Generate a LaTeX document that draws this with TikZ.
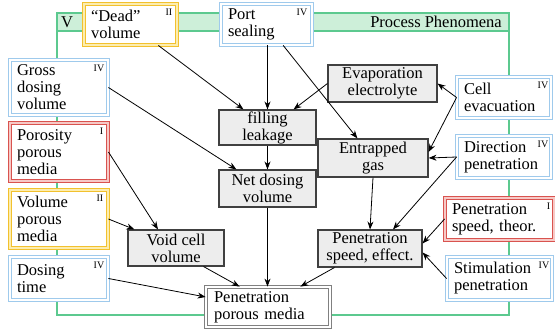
\documentclass[tikz,border=0pt]{standalone}
\usepackage{fontspec}
\setmainfont{Liberation Serif}
\usetikzlibrary{arrows.meta}
\definecolor{frameg}{HTML}{5CC98F}
\definecolor{bandg}{HTML}{CDEFD9}
\definecolor{factblue}{HTML}{9FCAEC}
\definecolor{factred}{HTML}{D9534F}
\definecolor{factredin}{HTML}{F6C9C6}
\definecolor{factyel}{HTML}{F2C12E}
\definecolor{factyelin}{HTML}{FCEDB0}
\newcommand{\boxfont}{\rmfamily\fontsize{16.5}{17}\selectfont}
\tikzset{
  factor/.style={double distance=1.3pt, line width=0.9pt, fill=white, align=left, inner xsep=7pt, inner ysep=1pt, font=\boxfont},
  tI/.style={factor, draw=factred, double=factredin},
  tII/.style={factor, draw=factyel, double=factyelin},
  tIV/.style={factor, draw=factblue, double=white},
  effect/.style={draw=black!75, fill=black!7, line width=1.1pt, align=center, inner sep=1pt, font=\boxfont},
  result/.style={draw=black!50, double=white, double distance=1.5pt, line width=0.8pt, fill=white, align=left, inner xsep=8pt, inner ysep=1pt, font=\boxfont},
  level/.style={anchor=north east, inner sep=0pt, font=\rmfamily\fontsize{10}{10}\selectfont},
  infl/.style={-{Stealth[length=8pt,width=6pt]}, line width=0.8pt},
}
\begin{document}
\begin{tikzpicture}[x=1pt,y=-1pt]
\useasboundingbox (0,0) rectangle (555,329);
% frame
\fill[bandg] (57,13) rectangle (509,31);
\draw[frameg, line width=1.8pt] (57,31) -- (509,31);
\draw[frameg, line width=1.8pt] (57,13) rectangle (509,315);
\node[font=\boxfont, anchor=west, inner sep=0pt] (vlab) at (61,22) {V};
\node[font=\boxfont, anchor=east, inner sep=0pt] (phen) at (502,22) {Process Phenomena};
% factors
\node[tII, text width=79pt, minimum height=41pt] (dead) at (130.5,24.5) {“Dead”\\volume};
\node[tIV, text width=77pt, minimum height=41pt] (port) at (266.5,24.5) {Port\\sealing};
\node[tIV, text width=84pt, minimum height=55pt] (gross) at (59,87.5) {Gross\\dosing\\volume};
\node[tI, text width=84pt, minimum height=58pt] (poro) at (59,152) {Porosity\\porous\\media};
\node[tII, text width=84pt, minimum height=58pt] (volpm) at (59,219) {Volume\\porous\\media};
\node[tIV, text width=84pt, minimum height=43pt] (dtime) at (59,278.5) {Dosing\\time};
\node[tIV, text width=80pt, minimum height=41pt] (cell) at (504,97.5) {Cell\\evacuation};
\node[tIV, text width=80pt, minimum height=42pt] (dirp) at (504,157) {Direction\\penetration};
\node[tI, text width=95pt, minimum height=42pt] (pspt) at (499.5,219) {Penetration\\speed, theor.};
\node[tIV, text width=91pt, minimum height=43pt] (stim) at (499.5,278.5) {Stimulation\\penetration};
% levels
\node[level] (dead-l) at ([shift={(-5pt,-5pt)}]dead.north east) {II};
\node[level] (port-l) at ([shift={(-5pt,-5pt)}]port.north east) {IV};
\node[level] (gross-l) at ([shift={(-4pt,-5pt)}]gross.north east) {IV};
\node[level] (poro-l) at ([shift={(-5pt,-5pt)}]poro.north east) {I};
\node[level] (volpm-l) at ([shift={(-5pt,-5pt)}]volpm.north east) {II};
\node[level] (dtime-l) at ([shift={(-4pt,-5pt)}]dtime.north east) {IV};
\node[level] (cell-l) at ([shift={(-3pt,-5pt)}]cell.north east) {IV};
\node[level] (dirp-l) at ([shift={(-3pt,-5pt)}]dirp.north east) {IV};
\node[level] (pspt-l) at ([shift={(-4pt,-5pt)}]pspt.north east) {I};
\node[level] (stim-l) at ([shift={(-3pt,-5pt)}]stim.north east) {IV};
% effects
\node[effect, minimum width=97pt, minimum height=35pt] (fill) at (267.5,127.5) {filling\\leakage};
\node[effect, minimum width=97pt, minimum height=37pt] (netdv) at (267.5,188.5) {Net dosing\\volume};
\node[effect, minimum width=109pt, minimum height=37pt] (evap) at (382.5,83.5) {Evaporation\\electrolyte};
\node[effect, minimum width=110pt, minimum height=38pt] (gas) at (373,158) {Entrapped\\gas};
\node[effect, minimum width=104pt, minimum height=37pt] (pspe) at (370,248.5) {Penetration\\speed, effect.};
\node[effect, minimum width=96pt, minimum height=36pt] (void) at (176,248) {Void cell\\volume};
\node[result, text width=108pt, minimum height=40pt] (penpm) at (268,307) {Penetration\\porous media};
% influences
\draw[infl] (dead) -- (fill);
\draw[infl] (port.south -| fill.north) -- (fill.north);
\draw[infl] (port) -- (gas);
\draw[infl] (gross.east) -- ([xshift=18pt]netdv.north west);
\draw[infl] (evap.west) -- ([xshift=-23pt]fill.north east);
\draw[infl] (cell.west) -- (evap.east);
\draw[infl] (cell.west) -- ([yshift=6pt]gas.east);
\draw[infl] (dirp.west) -- (gas.east);
\draw[infl] (dirp.west) -- ([xshift=23pt]pspe.north);
\draw[infl] (fill) -- (netdv);
\draw[infl] (gas.south) -- (pspe.north);
\draw[infl] (poro.east) -- ([xshift=-18pt]void.north);
\draw[infl] (volpm.east) -- ([xshift=7pt]void.north west);
\draw[infl] (dtime.east) -- ([yshift=10pt]penpm.west);
\draw[infl] ([xshift=-21pt]void.south east) -- ([xshift=34pt]penpm.north west);
\draw[infl] (netdv.south) -- (penpm.north -| netdv.south);
\draw[infl] ([xshift=17pt]pspe.south west) -- ([xshift=-30pt]penpm.north east);
\draw[infl] (pspt.west) -- ([yshift=5pt]pspe.east);
\draw[infl] (stim.west) -- ([yshift=-4pt]pspe.east);
\end{tikzpicture}
\end{document}
